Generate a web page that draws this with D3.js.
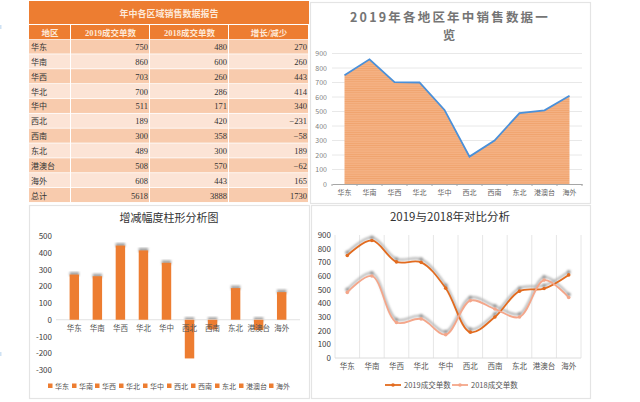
<!DOCTYPE html>
<html>
<head>
<meta charset="utf-8">
<script src="https://cdn.jsdelivr.net/npm/d3@7/dist/d3.min.js"></script>
<style>
html, body { margin: 0; padding: 0; background: #fff; }
svg { display: block; }
text { font-family: "Noto Sans CJK SC", "Noto Sans", sans-serif; }
</style>
</head>
<body>
<script>
var regions = ["华东", "华南", "华西", "华北", "华中", "西北", "西南", "东北", "港澳台", "海外"];
var sales2019 = [750, 860, 703, 700, 511, 189, 300, 489, 508, 608];
var sales2018 = [480, 600, 260, 286, 171, 420, 358, 300, 570, 443];
var change = [270, 260, 443, 414, 340, -231, -58, 189, -62, 165];
var totals = [5618, 3888, 1730];
var tableHeads = ["地区", "2019成交单数", "2018成交单数", "增长/减少"];
var ticksArea = [0, 100, 200, 300, 400, 500, 600, 700, 800, 900];
var ticksBar = [-300, -200, -100, 0, 100, 200, 300, 400, 500];

var orange = "#ed7d31";
var width = 640, height = 402;
var tableFont = "'Liberation Serif', 'Noto Sans CJK SC'";

var svg = d3.select("body").append("svg")
    .attr("width", width).attr("height", height);

var defs = svg.append("defs");
defs.append("filter").attr("id", "soft")
    .attr("x", "-20%").attr("y", "-20%").attr("width", "140%").attr("height", "140%")
    .append("feGaussianBlur").attr("stdDeviation", 0.8);
var stripes = defs.append("pattern").attr("id", "stripes")
    .attr("width", 4).attr("height", 2.2).attr("patternUnits", "userSpaceOnUse");
stripes.append("rect").attr("width", 4).attr("height", 2.2).attr("fill", "#f4b183");
stripes.append("rect").attr("width", 4).attr("height", 0.7).attr("fill", "#f0a26c");

function panel(x, y, w, h) {
    svg.append("rect").attr("x", x + 0.5).attr("y", y + 0.5)
        .attr("width", w).attr("height", h)
        .attr("fill", "#fff").attr("stroke", "#e4e4e4").attr("stroke-width", 1.2);
}

/* stray marks at the left edge of the sheet */
[25, 352].forEach(function (y) {
    svg.append("rect").attr("x", 0).attr("y", y).attr("width", 1.5).attr("height", 4).attr("fill", "#cfe2f3");
});

/* table */
var colX = [29, 71, 150, 229, 309];
var rowTop = 39.5, rowH = 14.85;
var tbl = svg.append("g");

tbl.append("rect").attr("x", 29).attr("y", 1).attr("width", 280).attr("height", 23).attr("fill", orange);
tbl.append("text").attr("x", 169).attr("y", 16.5).attr("text-anchor", "middle")
    .attr("fill", "#fde9d9").style("font-size", "9px").style("font-weight", 700)
    .text("年中各区域销售数据报告");

tableHeads.forEach(function (h, i) {
    tbl.append("rect").attr("x", colX[i]).attr("y", 25)
        .attr("width", colX[i + 1] - colX[i] - 1).attr("height", 14).attr("fill", orange);
    tbl.append("text").attr("x", (colX[i] + colX[i + 1]) / 2).attr("y", 36).attr("text-anchor", "middle")
        .attr("fill", "#fde9d9").style("font-size", "8.5px").style("font-weight", 700)
        .style("font-family", tableFont).text(h);
});

var rows = regions.map(function (r, i) {
    return [r, sales2019[i], sales2018[i], change[i]];
});
rows.push(["总计"].concat(totals));

rows.forEach(function (row, r) {
    var y = rowTop + r * rowH;
    row.forEach(function (v, c) {
        tbl.append("rect").attr("x", colX[c]).attr("y", y)
            .attr("width", colX[c + 1] - colX[c] - 1).attr("height", rowH - 0.8)
            .attr("fill", r % 2 == 0 ? "#f8cbad" : "#fce4d6");
        var t = tbl.append("text").attr("y", y + 10.5).attr("fill", "#333")
            .style("font-size", "8.5px")
            .style("font-family", tableFont);
        if (c == 0) t.attr("x", colX[0] + 2).style("font-size", "8px").text(v);
        else t.attr("x", colX[c + 1] - 2).attr("text-anchor", "end")
            .text(v < 0 ? "\u2212" + (-v) : v);
    });
});

/* area chart */
panel(310, 2, 280, 201);
var gArea = svg.append("g");
var xArea = d3.scaleBand().domain(regions).range([332, 582]);
var yArea = d3.scaleLinear().domain([0, 900]).range([184, 53.5]);
var midArea = function (d, i) { return xArea(regions[i]) + xArea.bandwidth() / 2; };

gArea.selectAll(".grid").data(ticksArea.slice(1)).enter().append("line")
    .attr("x1", 332).attr("x2", 582)
    .attr("y1", yArea).attr("y2", yArea)
    .attr("stroke", "#e8e8e8");

gArea.append("path").datum(sales2019)
    .attr("fill", "url(#stripes)")
    .attr("d", d3.area().x(midArea).y0(yArea(0)).y1(function (d) { return yArea(d); }));

gArea.append("path").datum(sales2019)
    .attr("fill", "none").attr("stroke", "#4a90d9").attr("stroke-width", 1.8)
    .attr("d", d3.line().x(midArea).y(function (d) { return yArea(d); }));

var axAreaY = gArea.append("g").attr("transform", "translate(332,0)")
    .call(d3.axisLeft(yArea).tickValues(ticksArea).tickSize(0).tickPadding(5));
axAreaY.select(".domain").remove();
axAreaY.selectAll("text").attr("fill", "#7f7f7f").style("font-size", "7px");

var axAreaX = gArea.append("g").attr("transform", "translate(0,184)")
    .call(d3.axisBottom(xArea).tickSize(0).tickPadding(6));
axAreaX.select(".domain").attr("stroke", "#a6a6a6");
axAreaX.selectAll("text").attr("fill", "#666").style("font-size", "7px");
gArea.selectAll(".sep").data(regions.concat([""])).enter().append("line")
    .attr("x1", function (d, i) { return 332 + i * xArea.step(); })
    .attr("x2", function (d, i) { return 332 + i * xArea.step(); })
    .attr("y1", 184).attr("y2", 186).attr("stroke", "#a6a6a6");

["2019年各地区年中销售数据一", "览"].forEach(function (s, i) {
    gArea.append("text").attr("x", 450).attr("y", 21.5 + i * 18.5).attr("text-anchor", "middle")
        .attr("fill", "#757575").style("font-size", "12.5px").style("font-weight", 700)
        .style("letter-spacing", "2.2px").text(s);
});

/* bar chart */
panel(29, 205, 280, 193);
var gBar = svg.append("g");
var xBar = d3.scaleBand().domain(regions).range([56, 300]).padding(0.59);
var yBar = d3.scaleLinear().domain([-300, 500]).range([370, 236]);

gBar.selectAll(".shade").data(change).enter().append("rect")
    .attr("x", function (d, i) { return xBar(regions[i]); })
    .attr("y", function (d) { return yBar(Math.max(d, 0)) - 2.5; })
    .attr("width", xBar.bandwidth()).attr("height", 4)
    .attr("fill", "#a5a5a5").attr("filter", "url(#soft)");

gBar.append("line").attr("x1", 56).attr("x2", 300)
    .attr("y1", yBar(0)).attr("y2", yBar(0)).attr("stroke", "#e2e2e2");

gBar.selectAll(".bar").data(change).enter().append("rect")
    .attr("x", function (d, i) { return xBar(regions[i]); })
    .attr("y", function (d) { return yBar(Math.max(d, 0)); })
    .attr("width", xBar.bandwidth())
    .attr("height", function (d) { return Math.abs(yBar(d) - yBar(0)); })
    .attr("fill", orange);

var axBarY = gBar.append("g").attr("transform", "translate(56,0)")
    .call(d3.axisLeft(yBar).tickValues(ticksBar).tickFormat(String).tickSize(0).tickPadding(4));
axBarY.select(".domain").remove();
axBarY.selectAll("text").attr("fill", "#404040").style("font-size", "8px");

var axBarX = gBar.append("g").attr("transform", "translate(0," + yBar(0) + ")")
    .call(d3.axisBottom(xBar).tickSize(0).tickPadding(6));
axBarX.select(".domain").remove();
axBarX.selectAll("text").attr("fill", "#555").style("font-size", "7.5px");

gBar.append("text").attr("x", 169).attr("y", 222).attr("text-anchor", "middle")
    .attr("fill", "#333").style("font-size", "11px").text("增减幅度柱形分析图");

var legendX = [48, 72, 95, 119, 143, 167, 191, 215, 239, 269];
regions.forEach(function (r, i) {
    gBar.append("rect").attr("x", legendX[i]).attr("y", 383.5).attr("width", 4.5).attr("height", 4.5).attr("fill", orange);
    gBar.append("text").attr("x", legendX[i] + 7).attr("y", 389).attr("fill", "#555")
        .style("font-size", "7px").text(r);
});

/* line chart */
panel(311, 205, 279, 193);
var gLine = svg.append("g");
var xLine = d3.scaleBand().domain(regions).range([335, 581]);
var yLine = d3.scaleLinear().domain([0, 900]).range([358, 235]);
var midLine = function (d, i) { return xLine(regions[i]) + xLine.bandwidth() / 2; };

gLine.selectAll(".vgrid").data(regions.concat([""])).enter().append("line")
    .attr("x1", function (d, i) { return 335 + i * xLine.step(); })
    .attr("x2", function (d, i) { return 335 + i * xLine.step(); })
    .attr("y1", 235).attr("y2", 358).attr("stroke", "#e6e6e6");
gLine.append("line").attr("x1", 335).attr("x2", 581).attr("y1", 358).attr("y2", 358).attr("stroke", "#dcdcdc");

var smooth = d3.line().x(midLine).y(function (d) { return yLine(d); })
    .curve(d3.curveCatmullRom.alpha(0.5));

[sales2019, sales2018].forEach(function (vals) {
    var s = gLine.append("g").attr("transform", "translate(0,-3)").attr("filter", "url(#soft)");
    s.append("path").datum(vals).attr("d", smooth)
        .attr("fill", "none").attr("stroke", "#b5b5b5").attr("stroke-width", 2.2);
    s.selectAll("circle").data(vals).enter().append("circle")
        .attr("cx", midLine).attr("cy", function (d) { return yLine(d); }).attr("r", 2)
        .attr("fill", "#969696");
});

var lineColors = ["#e26b1f", "#f4a68a"];
[sales2019, sales2018].forEach(function (vals, k) {
    gLine.append("path").datum(vals).attr("d", smooth)
        .attr("fill", "none").attr("stroke", lineColors[k]).attr("stroke-width", 1.8);
    gLine.selectAll(".pt" + k).data(vals).enter().append("circle")
        .attr("cx", midLine).attr("cy", function (d) { return yLine(d); }).attr("r", 1.8)
        .attr("fill", lineColors[k]);
});

var axLineY = gLine.append("g").attr("transform", "translate(335,0)")
    .call(d3.axisLeft(yLine).tickValues(ticksArea).tickSize(0).tickPadding(4));
axLineY.select(".domain").remove();
axLineY.selectAll("text").attr("fill", "#404040").style("font-size", "8px");

var axLineX = gLine.append("g").attr("transform", "translate(0,358)")
    .call(d3.axisBottom(xLine).tickSize(0).tickPadding(6));
axLineX.select(".domain").remove();
axLineX.selectAll("text").attr("fill", "#555").style("font-size", "7.5px");

gLine.append("text").attr("x", 450).attr("y", 221).attr("text-anchor", "middle")
    .attr("fill", "#333").style("font-size", "11.5px").text("2019与2018年对比分析");

var legendLine = [[385, "2019成交单数"], [452, "2018成交单数"]];
legendLine.forEach(function (l, k) {
    gLine.append("line").attr("x1", l[0]).attr("x2", l[0] + 16).attr("y1", 385).attr("y2", 385)
        .attr("stroke", lineColors[k]).attr("stroke-width", 1.8);
    gLine.append("circle").attr("cx", l[0] + 8).attr("cy", 385).attr("r", 1.8).attr("fill", lineColors[k]);
    gLine.append("text").attr("x", l[0] + 19).attr("y", 388).attr("fill", "#555")
        .style("font-size", "7.5px").text(l[1]);
});
</script>
</body>
</html>
